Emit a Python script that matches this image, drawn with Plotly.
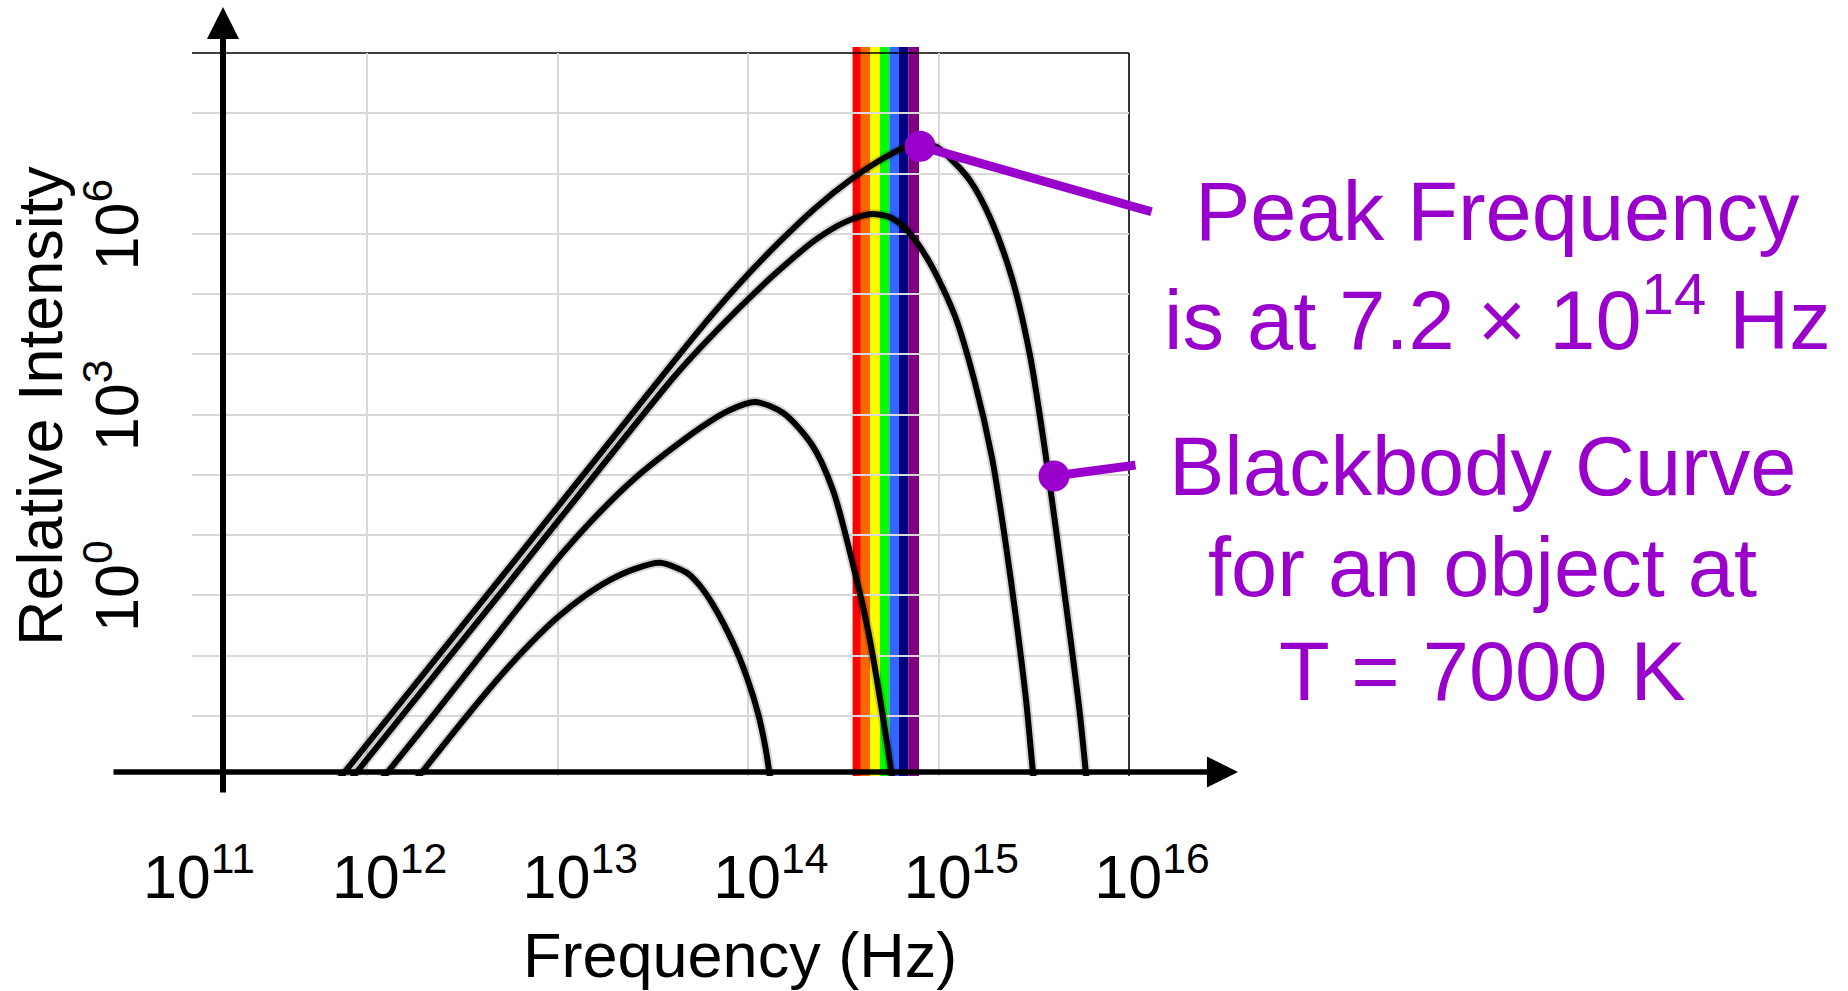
import math
import plotly.graph_objects as go

# ---------------- data ----------------
freq_a = [7.04e11, 7.66e11, 4.99e12, 2.13e13, 5.60e13, 9.08e13, 1.44e14, 2.25e14, 3.43e14,
          4.93e14, 6.67e14, 8.19e14, 9.82e14, 1.15e15, 1.46e15, 1.86e15, 2.43e15, 3.02e15,
          3.62e15, 4.24e15, 4.90e15, 5.53e15, 6.02e15]
int_a = [8.36e-4, 1.18e-3, 1.87, 575, 2.62e4, 1.52e5, 6.98e5, 2.66e6, 7.74e6,
         1.66e7, 2.73e7, 3.18e7, 2.73e7, 1.79e7, 7.74e6, 1.88e6, 1.84e5, 9.70e3,
         258, 6.85, 0.220, 1.04e-2, 7.18e-4]

freq_b = [8.14e11, 8.86e11, 4.99e12, 4.04e13, 5.60e13, 8.86e13, 1.42e14, 2.25e14, 3.23e14,
          4.37e14, 5.57e14, 6.83e14, 9.03e14, 1.22e15, 1.55e15, 1.91e15, 2.23e15, 2.55e15,
          2.88e15, 3.13e15, 3.21e15]
int_b = [8.36e-4, 1.18e-3, 1.05, 4.03e3, 1.27e4, 5.62e4, 2.31e5, 7.83e5, 1.56e6,
         2.11e6, 1.88e6, 1.15e6, 3.25e5, 4.31e4, 3.46e3, 190, 8.95, 0.422,
         1.84e-2, 1.18e-3, 5.93e-4]

freq_c = [1.18e12, 2.22e12, 4.99e12, 1.12e13, 2.49e13, 5.60e13, 8.04e13, 1.09e14, 1.53e14,
          2.17e14, 2.79e14, 3.56e14, 4.21e14, 4.75e14, 5.43e14, 5.77e14]
int_c = [8.36e-4, 1.00e-2, 0.257, 6.11, 82.0, 597, 1.19e3, 1.61e3, 1.06e3,
         312, 56.0, 3.19, 0.323, 3.95e-2, 2.73e-3, 7.18e-4]

freq_d = [1.79e12, 3.35e12, 5.30e12, 7.17e12, 9.94e12, 1.39e13, 1.89e13, 2.55e13, 3.45e13,
          4.78e13, 5.60e13, 6.55e13, 8.34e13, 9.88e13, 1.13e14, 1.24e14, 1.32e14]
int_d = [8.36e-4, 1.00e-2, 5.57e-2, 0.156, 0.422, 0.977, 1.80, 2.74, 3.45,
         2.35, 1.43, 0.693, 0.162, 4.27e-2, 1.08e-2, 2.73e-3, 7.18e-4]

# visible band stripes (Hz edges) and colours
band_edges = [3.54e14, 3.91e14, 4.37e14, 4.93e14, 5.52e14, 6.20e14, 6.94e14, 7.90e14]
band_colors = ["#FF0000", "#FF6600", "#FFFF00", "#00FF00", "#3366FF", "#000080", "#800080"]

# highlighted points
peak_point = (8.0e14, 2.84e7)
curve_point = (4.04e15, 95.5)

x_tick_vals = [1e11, 1e12, 1e13, 1e14, 1e15, 1e16]
x_tick_text = ["10<sup>11</sup>", "10<sup>12</sup>", "10<sup>13</sup>",
               "10<sup>14</sup>", "10<sup>15</sup>", "10<sup>16</sup>"]
y_grid_exps = list(range(-3, 10))
y_label_map = {0: "10<sup>0</sup>", 3: "10<sup>3</sup>", 6: "10<sup>6</sup>"}

PURPLE = "#9900CC"
FONT = "Liberation Sans, Arial, sans-serif"

fig = go.Figure()

curves = [(freq_a, int_a), (freq_b, int_b), (freq_c, int_c), (freq_d, int_d)]
# soft shadow under each curve
for fx, iy in curves:
    fig.add_trace(go.Scatter(x=fx, y=iy, mode="lines",
                             line=dict(color="rgba(0,0,0,0.16)", width=10, shape="spline", smoothing=0.8),
                             hoverinfo="skip", showlegend=False))
for fx, iy in curves:
    fig.add_trace(go.Scatter(x=fx, y=iy, mode="lines",
                             line=dict(color="black", width=6, shape="spline", smoothing=0.8),
                             hoverinfo="skip", showlegend=False))

fig.add_trace(go.Scatter(x=[peak_point[0], curve_point[0]], y=[peak_point[1], curve_point[1]],
                         mode="markers", marker=dict(color=PURPLE, size=31),
                         cliponaxis=False, hoverinfo="skip", showlegend=False))

# dummy trace for the labelled frequency axis
fig.add_trace(go.Scatter(x=[x_tick_vals[0], x_tick_vals[-1]], y=[1, 1], xaxis="x2", yaxis="y2",
                         mode="lines", line=dict(width=0), opacity=0,
                         hoverinfo="skip", showlegend=False))

shapes = []
for i, col in enumerate(band_colors):
    shapes.append(dict(type="rect", xref="x", yref="paper",
                       x0=band_edges[i], x1=band_edges[i + 1], y0=0, y1=1.0083,
                       fillcolor=col, line=dict(width=0), layer="between"))
# frame (top and right)
shapes.append(dict(type="line", xref="x domain", yref="y domain", x0=0, x1=1, y0=1, y1=1,
                   line=dict(color="black", width=1.6), layer="below"))
shapes.append(dict(type="line", xref="x domain", yref="y domain", x0=1, x1=1, y0=0, y1=1,
                   line=dict(color="black", width=1.6), layer="below"))

annotations = [
    # y axis arrow
    dict(xref="paper", yref="paper", x=0.0323, y=1.0636, ax=0, ay=787, text="",
         showarrow=True, arrowhead=2, arrowsize=1.07, arrowwidth=6, arrowcolor="black", standoff=0),
    # x axis arrow
    dict(xref="paper", yref="paper", x=1.0896, y=0.0055, ax=-1126, ay=0, text="",
         showarrow=True, arrowhead=2, arrowsize=1.13, arrowwidth=5.5, arrowcolor="black", standoff=0),
    # connectors
    dict(xref="x", yref="y", x=math.log10(peak_point[0]), y=math.log10(peak_point[1]),
         ax=233, ay=66, text="", showarrow=True, arrowhead=0, arrowwidth=9,
         arrowcolor=PURPLE, standoff=0),
    dict(xref="x", yref="y", x=math.log10(curve_point[0]), y=math.log10(curve_point[1]),
         ax=83, ay=-11, text="", showarrow=True, arrowhead=0, arrowwidth=9,
         arrowcolor=PURPLE, standoff=0),
]

def txt(x, y, s, size=83, color=PURPLE, angle=0):
    return dict(xref="paper", yref="paper", x=x, y=y, text=s, showarrow=False,
                xanchor="center", yanchor="middle", textangle=angle,
                font=dict(family=FONT, size=size, color=color))

annotations += [
    txt(1.3594, 0.7801, "Peak Frequency"),
    txt(1.3594, 0.6390, "is at 7.2 \u00d7 10<sup>14</sup> Hz"),
    txt(1.3438, 0.4274, "Blackbody Curve"),
    txt(1.3438, 0.2877, "for an object at"),
    txt(1.3438, 0.1452, "T = 7000 K"),
    txt(0.5708, -0.2476, "Frequency (Hz)", size=63, color="black"),
    txt(-0.1583, 0.5118, "Relative Intensity", size=63, color="black", angle=-90),
]

fig.update_layout(
    width=1848, height=991, autosize=False,
    margin=dict(l=192, r=696, t=53, b=215),
    paper_bgcolor="white", plot_bgcolor="rgba(0,0,0,0)",
    font=dict(family=FONT, color="black"),
    showlegend=False,
    xaxis=dict(type="log", domain=[0, 0.97604], range=[11.081, 16],
               tickvals=x_tick_vals[1:], showticklabels=False, ticks="",
               showgrid=True, gridcolor="#d9d9d9", gridwidth=2,
               zeroline=False, showline=False, anchor="y"),
    yaxis=dict(type="log", domain=[0, 1], range=[-3, 9], anchor="x",
               tickvals=[10.0 ** e for e in y_grid_exps],
               ticktext=[y_label_map.get(e, "") for e in y_grid_exps],
               tickangle=-90, tickfont=dict(size=61, family=FONT, color="black"),
               ticks="outside", ticklen=29, tickcolor="rgba(0,0,0,0)",
               showgrid=True, gridcolor="#d9d9d9", gridwidth=2,
               zeroline=False, showline=False),
    xaxis2=dict(type="log", domain=[0.0073, 1], range=[11, 16], anchor="y2",
                tickvals=x_tick_vals, ticktext=x_tick_text,
                tickfont=dict(size=61, family=FONT, color="black"),
                ticks="outside", ticklen=48, tickcolor="rgba(0,0,0,0)",
                showgrid=False, zeroline=False, showline=False),
    yaxis2=dict(type="log", domain=[0, 1], range=[-3, 9], anchor="x2",
                visible=False, showgrid=False),
    shapes=shapes,
    annotations=annotations,
)

fig.write_html("out.html", config={"displayModeBar": False},
               post_script="document.body.style.margin='0';document.body.style.overflow='hidden';")
